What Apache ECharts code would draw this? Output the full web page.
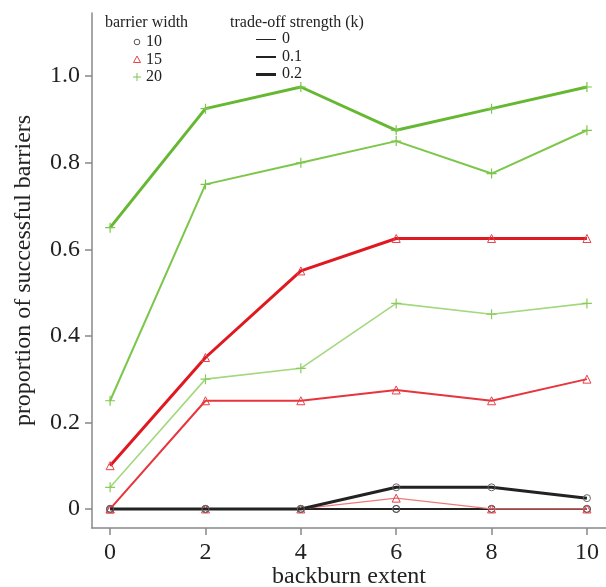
<!DOCTYPE html>
<html><head><meta charset="utf-8">
<script src="https://cdn.jsdelivr.net/npm/echarts@6/dist/echarts.min.js"></script>
<style>html,body{margin:0;padding:0;background:#fff}#c{width:606px;height:587px}</style>
</head><body><div id="c"></div>
<script>
const backburn = [0, 2, 4, 6, 8, 10];
const yTicks = [0, 0.2, 0.4, 0.6, 0.8, 1.0];
const yTickLabels = ['0', '0.2', '0.4', '0.6', '0.8', '1.0'];
const xTicks = [0, 2, 4, 6, 8, 10];

// barrier width 10 (black circles)
const w10_k0  = [0, 0, 0, 0, 0, 0];
const w10_k01 = [0, 0, 0, 0, 0, 0];
const w10_k02 = [0, 0, 0, 0.05, 0.05, 0.025];
// barrier width 15 (red triangles)
const w15_k0  = [0, 0, 0, 0.025, 0, 0];
const w15_k01 = [0, 0.25, 0.25, 0.275, 0.25, 0.3];
const w15_k02 = [0.1, 0.35, 0.55, 0.625, 0.625, 0.625];
// barrier width 20 (green plus)
const w20_k0  = [0.05, 0.3, 0.325, 0.475, 0.45, 0.475];
const w20_k01 = [0.25, 0.75, 0.8, 0.85, 0.775, 0.875];
const w20_k02 = [0.65, 0.925, 0.975, 0.875, 0.925, 0.975];

const FONT = '"Liberation Serif", "DejaVu Serif", serif';
const plusPath = 'path://M4.4,0h1.2v10h-1.2zM0,4.4h10v1.2h-10z';

function pts(vals){ return backburn.map((x,i)=>[x, vals[i]]); }

function mk(name, vals, color, width, symbol, symColor, size, fillSym, z){
  return {
    name, type:'line', data: pts(vals), z: z,
    lineStyle:{color, width},
    symbol, symbolSize:size, showSymbol:true,
    itemStyle: fillSym ? {color:symColor, borderWidth:0} : {color:'rgba(255,255,255,0)', borderColor:symColor, borderWidth:1},
    emphasis:{disabled:true}, animation:false
  };
}

const series = [
  mk('w10_k0', w10_k0, '#333333', 1, 'circle', '#555555', 7, false, 2),
  mk('w10_k01', w10_k01, '#222222', 2, 'circle', '#555555', 7, false, 2),
  mk('w15_k0', w15_k0, '#f07a7a', 1.2, 'triangle', '#e8414a', 8, false, 3),
  mk('w10_k02', w10_k02, '#222222', 3, 'circle', '#666666', 7, false, 4),
  mk('w15_k01', w15_k01, '#e8343c', 2, 'triangle', '#e8414a', 8, false, 3),
  mk('w15_k02', w15_k02, '#e01820', 3, 'triangle', '#e8414a', 8, false, 3),
  mk('w20_k0', w20_k0, '#a3d87e', 1.6, plusPath, '#8acb5e', 10, true, 3),
  mk('w20_k01', w20_k01, '#7cc64a', 2, plusPath, '#7cc64a', 10, true, 3),
  mk('w20_k02', w20_k02, '#66b832', 3, plusPath, '#7cc64a', 10, true, 3)
];

const chart = echarts.init(document.getElementById('c'), null, {renderer:'canvas'});
const txt = {fontFamily:FONT, fontSize:16, fill:'#222'};
const graphic = [
  {type:'text', left:105, top:15, style:Object.assign({text:'barrier width'}, txt)},
  {type:'circle', shape:{cx:137, cy:42, r:2.8}, style:{fill:'none', stroke:'#555', lineWidth:1}},
  {type:'text', left:146, top:34, style:Object.assign({text:'10'}, txt)},
  {type:'polygon', shape:{points:[[137,56],[133.5,62.5],[140.5,62.5]]}, style:{fill:'none', stroke:'#e8414a', lineWidth:1}},
  {type:'text', left:146, top:52, style:Object.assign({text:'15'}, txt)},
  {type:'line', shape:{x1:133,y1:77,x2:141,y2:77}, style:{stroke:'#7cc64a', lineWidth:1}},
  {type:'line', shape:{x1:137,y1:73,x2:137,y2:81}, style:{stroke:'#7cc64a', lineWidth:1}},
  {type:'text', left:146, top:69, style:Object.assign({text:'20'}, txt)},
  {type:'text', left:230, top:15, style:Object.assign({text:'trade-off strength (k)'}, txt)},
  {type:'line', shape:{x1:256,y1:39.5,x2:276,y2:39.5}, style:{stroke:'#222', lineWidth:1}},
  {type:'text', left:282, top:31, style:Object.assign({text:'0'}, txt)},
  {type:'line', shape:{x1:256,y1:57,x2:276,y2:57}, style:{stroke:'#222', lineWidth:2}},
  {type:'text', left:282, top:49, style:Object.assign({text:'0.1'}, txt)},
  {type:'line', shape:{x1:256,y1:74.5,x2:276,y2:74.5}, style:{stroke:'#222', lineWidth:3}},
  {type:'text', left:282, top:66, style:Object.assign({text:'0.2'}, txt)}
];

chart.setOption({
  backgroundColor:'#fff',
  animation:false,
  grid:{left:92, right:0, top:13, bottom:59, containLabel:false, outerBoundsMode:'none'},
  xAxis:{
    type:'value', min:-0.38, max:10.4,
    axisLine:{show:true, onZero:false, lineStyle:{color:'#888', width:1.5}},
    axisTick:{show:true, customValues:xTicks, length:7, lineStyle:{color:'#888', width:1.5}},
    axisLabel:{customValues:xTicks, fontFamily:FONT, fontSize:24, color:'#222', margin:13},
    splitLine:{show:false},
    name:'backburn extent', nameLocation:'middle', nameGap:37, nameMoveOverlap:false,
    nameTextStyle:{fontFamily:FONT, fontSize:24, color:'#222'}
  },
  yAxis:{
    type:'value', min:-0.044, max:1.146,
    axisLine:{show:true, onZero:false, lineStyle:{color:'#888', width:1.5}},
    axisTick:{show:true, customValues:yTicks, length:7, lineStyle:{color:'#888', width:1.5}},
    axisLabel:{customValues:yTicks, formatter:(v)=>{const i=yTicks.findIndex(t=>Math.abs(t-v)<1e-6);return i>=0?yTickLabels[i]:'';}, fontFamily:FONT, fontSize:24, color:'#222', margin:12},
    splitLine:{show:false},
    name:'proportion of successful barriers', nameLocation:'middle', nameGap:56, nameRotate:90, nameMoveOverlap:false,
    nameTextStyle:{fontFamily:FONT, fontSize:24, color:'#222'}
  },
  series,
  graphic
});
</script></body></html>
